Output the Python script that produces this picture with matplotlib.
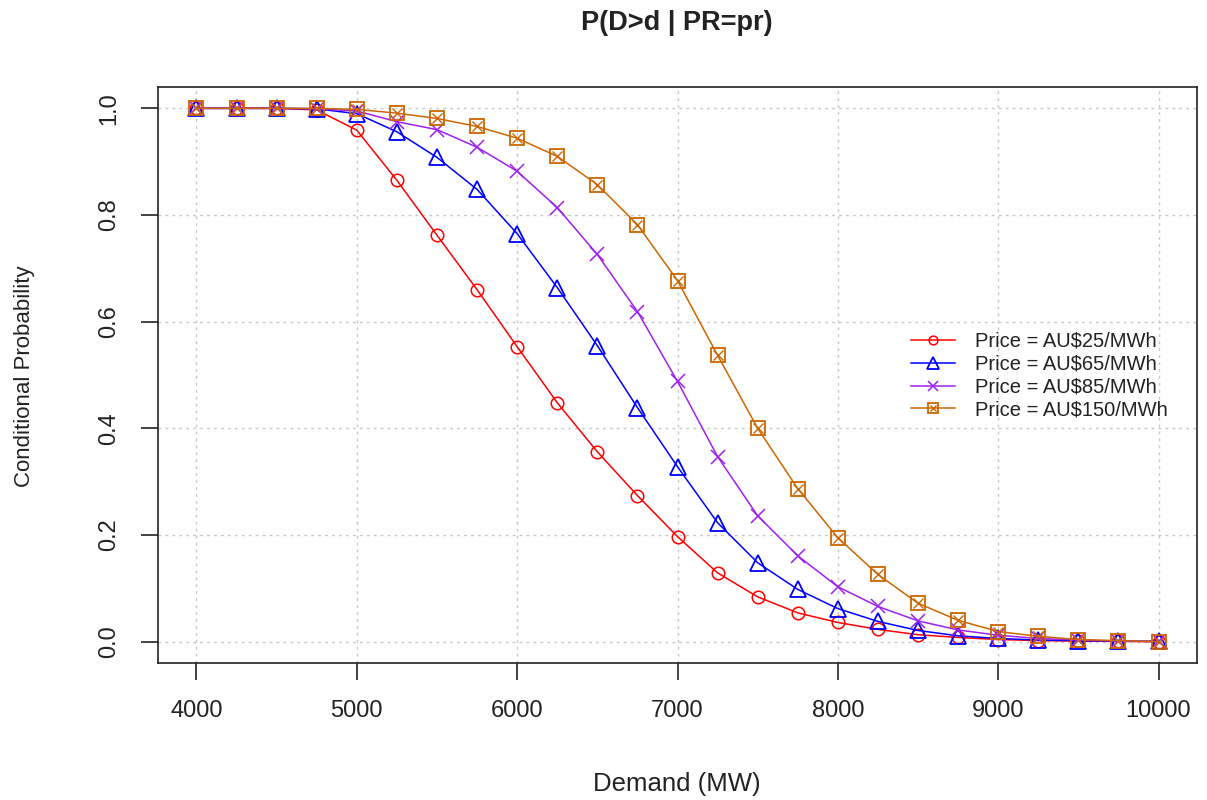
import matplotlib.pyplot as plt
import numpy as np
from matplotlib.legend_handler import HandlerTuple

plt.rcParams['font.family'] = ['Liberation Sans', 'DejaVu Sans']

# Nachfrage-Stützstellen (MW)
demand = [4000, 4250, 4500, 4750, 5000, 5250, 5500, 5750, 6000, 6250, 6500,
          6750, 7000, 7250, 7500, 7750, 8000, 8250, 8500, 8750, 9000, 9250,
          9500, 9750, 10000]

p25 = [1.0, 1.0, 1.0, 0.997, 0.959, 0.865, 0.762, 0.660, 0.553, 0.448, 0.356,
       0.274, 0.197, 0.129, 0.084, 0.054, 0.036, 0.023, 0.013, 0.008, 0.004,
       0.002, 0.001, 0.0005, 0.0]
p65 = [1.0, 1.0, 1.0, 0.999, 0.990, 0.956, 0.908, 0.848, 0.765, 0.664, 0.555,
       0.439, 0.328, 0.223, 0.148, 0.098, 0.062, 0.038, 0.021, 0.011, 0.006,
       0.003, 0.002, 0.001, 0.0005]
p85 = [1.0, 1.0, 1.0, 0.999, 0.995, 0.975, 0.960, 0.927, 0.882, 0.814, 0.726,
       0.619, 0.488, 0.347, 0.236, 0.161, 0.103, 0.066, 0.039, 0.022, 0.012,
       0.006, 0.003, 0.001, 0.0005]
p150 = [1.0, 1.0, 1.0, 1.0, 0.998, 0.991, 0.981, 0.966, 0.944, 0.910, 0.857,
        0.782, 0.677, 0.537, 0.400, 0.287, 0.195, 0.126, 0.072, 0.040, 0.019,
        0.010, 0.004, 0.002, 0.0]

labels = ["Price = AU$25/MWh", "Price = AU$65/MWh",
          "Price = AU$85/MWh", "Price = AU$150/MWh"]

red, blue, purple, orange = '#FF0000', '#0000FF', '#A020F0', '#CD6600'
txt = '#222222'

W, H = 1207, 800
fig = plt.figure(figsize=(W / 100, H / 100), dpi=100)
ax = fig.add_axes([158 / W, 1 - 663 / H, (1197 - 158) / W, (663 - 87) / H])

# Gitter (gepunktet, hellgrau)
for gx in range(4000, 10001, 1000):
    ax.axvline(gx, color='#c8c8c8', lw=1, ls=(0, (2, 3)), zorder=0)
for gy in np.arange(0, 1.01, 0.2):
    ax.axhline(gy, color='#c8c8c8', lw=1, ls=(0, (2, 3)), zorder=0)

lw = 1.1
l1, = ax.plot(demand, p25, color=red, lw=lw, marker='o', ms=9,
              mfc='none', mew=1.1)
l2, = ax.plot(demand, p65, color=blue, lw=lw, marker='^', ms=12,
              mfc='none', mew=1.3)
l3, = ax.plot(demand, p85, color=purple, lw=lw, marker='x', ms=10, mew=1.1)
l4, = ax.plot(demand, p150, color=orange, lw=lw, marker='s', ms=10,
              mfc='none', mew=1.3)
l4x, = ax.plot(demand, p150, color=orange, lw=0, marker='x', ms=7, mew=1.0)

ax.set_xlim(3760, 10240)
ax.set_ylim(-0.04, 1.04)
ax.set_xticks(range(4000, 10001, 1000))
ax.set_yticks(np.arange(0, 1.01, 0.2))
ax.set_yticklabels([f"{v:.1f}" for v in np.arange(0, 1.01, 0.2)],
                   rotation=90, va='center')
ax.tick_params(direction='out', length=12, width=1.2, labelsize=17,
               colors=txt)
ax.tick_params(axis='x', pad=14.5)
ax.tick_params(axis='y', pad=15)
for s in ax.spines.values():
    s.set_linewidth(1.2)
    s.set_color(txt)

fig.text(677 / W, 1 - 784 / H, 'Demand (MW)', ha='center', va='center',
         fontsize=18.5, color=txt)
fig.text(25 / W, 1 - 376 / H, 'Conditional Probability', ha='center',
         va='center', rotation=90, fontsize=16, color=txt)
fig.text(677 / W, 1 - 23 / H, 'P(D>d | PR=pr)', ha='center', va='center',
         fontsize=19.5, fontweight='bold', color=txt)

leg = ax.legend([l1, l2, l3, (l4, l4x)], labels, loc='upper left',
                bbox_to_anchor=((911 - 158) / (1197 - 158), (663 - 332) / (663 - 87)),
                frameon=False, fontsize=14.5, handlelength=2.2,
                handletextpad=1.0, labelspacing=0.19, borderpad=0,
                borderaxespad=0, markerscale=0.7,
                handler_map={tuple: HandlerTuple(ndivide=1, pad=0)})
for t in leg.get_texts():
    t.set_color(txt)

fig.savefig('out.png', dpi=100)
